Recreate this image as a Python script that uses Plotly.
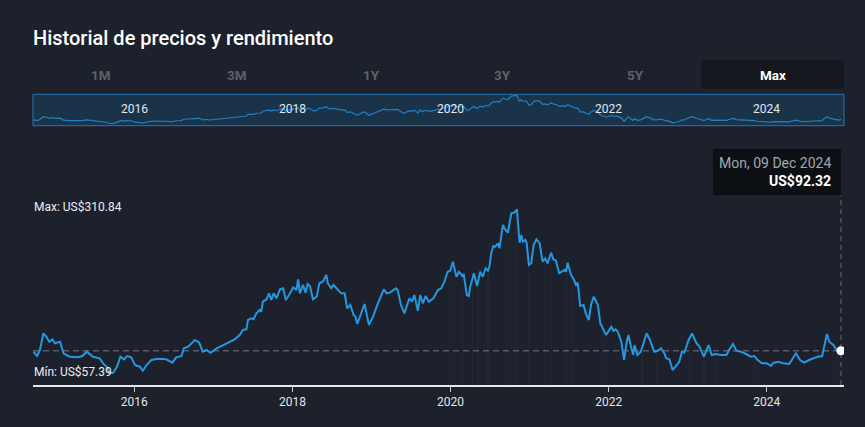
import pandas as pd
import plotly.graph_objects as go

# Serie de precios (fecha, precio en US$)
fechas = [
    "2014-09-22", "2014-10-09", "2014-10-22", "2014-11-07", "2014-11-22", "2014-12-04", "2014-12-19", "2014-12-31",
    "2015-01-23", "2015-02-08", "2015-03-08", "2015-04-16", "2015-05-06", "2015-05-27", "2015-06-24", "2015-07-25",
    "2015-08-10", "2015-08-28", "2015-09-07", "2015-09-25", "2015-10-13", "2015-10-29", "2015-11-14", "2015-11-29",
    "2015-12-18", "2016-01-04", "2016-01-27", "2016-02-09", "2016-02-27", "2016-03-20", "2016-04-20", "2016-05-28",
    "2016-06-25", "2016-07-13", "2016-08-06", "2016-08-17", "2016-09-06", "2016-10-07", "2016-10-27", "2016-11-12",
    "2016-11-30", "2016-12-18", "2017-01-16", "2017-02-15", "2017-03-16", "2017-04-09", "2017-05-02", "2017-05-17",
    "2017-06-02", "2017-06-09", "2017-06-25", "2017-07-05", "2017-07-18", "2017-08-02", "2017-08-10", "2017-08-17",
    "2017-09-03", "2017-09-14", "2017-09-25", "2017-10-06", "2017-10-19", "2017-11-04", "2017-11-19", "2017-12-01",
    "2017-12-16", "2018-01-04", "2018-01-19", "2018-01-27", "2018-02-04", "2018-02-19", "2018-03-02", "2018-03-12",
    "2018-03-23", "2018-04-05", "2018-04-23", "2018-05-05", "2018-05-21", "2018-06-06", "2018-06-13", "2018-06-29",
    "2018-07-09", "2018-07-29", "2018-08-14", "2018-08-30", "2018-09-10", "2018-09-25", "2018-10-10", "2018-10-19",
    "2018-10-27", "2018-11-07", "2018-11-30", "2018-12-20", "2019-01-08", "2019-02-01", "2019-02-27", "2019-03-12",
    "2019-03-27", "2019-04-09", "2019-04-24", "2019-05-02", "2019-05-17", "2019-06-02", "2019-06-10", "2019-06-25",
    "2019-07-07", "2019-07-18", "2019-08-03", "2019-08-14", "2019-08-26", "2019-09-08", "2019-09-23", "2019-10-14",
    "2019-11-04", "2019-11-19", "2019-12-04", "2019-12-19", "2019-12-31", "2020-01-12", "2020-01-28", "2020-02-09",
    "2020-02-25", "2020-03-02", "2020-03-16", "2020-03-25", "2020-04-01", "2020-04-18", "2020-05-03", "2020-05-17",
    "2020-05-29", "2020-06-11", "2020-06-22", "2020-06-29", "2020-07-07", "2020-07-17", "2020-07-26", "2020-08-07",
    "2020-08-14", "2020-08-30", "2020-09-11", "2020-09-22", "2020-10-08", "2020-10-23", "2020-11-03", "2020-11-15",
    "2020-11-23", "2020-11-30", "2020-12-12", "2020-12-18", "2020-12-28", "2021-01-08", "2021-01-19", "2021-02-01",
    "2021-02-16", "2021-03-01", "2021-03-14", "2021-03-24", "2021-04-10", "2021-04-20", "2021-05-02", "2021-05-17",
    "2021-06-10", "2021-06-18", "2021-06-25", "2021-07-11", "2021-07-23", "2021-08-03", "2021-08-11", "2021-08-22",
    "2021-09-07", "2021-09-17", "2021-10-01", "2021-10-12", "2021-10-24", "2021-11-04", "2021-11-12", "2021-11-23",
    "2021-12-20", "2022-01-13", "2022-01-23", "2022-02-02", "2022-02-12", "2022-02-28", "2022-03-13", "2022-03-24",
    "2022-04-02", "2022-04-14", "2022-04-24", "2022-04-30", "2022-05-14", "2022-05-29", "2022-06-25", "2022-07-10",
    "2022-07-30", "2022-08-15", "2022-08-31", "2022-09-15", "2022-09-23", "2022-10-08", "2022-10-23", "2022-11-08",
    "2022-11-23", "2022-12-05", "2022-12-16", "2023-01-05", "2023-01-21", "2023-02-09", "2023-02-24", "2023-03-17",
    "2023-04-07", "2023-04-22", "2023-05-10", "2023-06-03", "2023-06-29", "2023-07-11", "2023-07-29", "2023-08-14",
    "2023-09-04", "2023-09-27", "2023-10-20", "2023-11-05", "2023-11-20", "2023-12-10", "2024-01-01", "2024-01-21",
    "2024-02-01", "2024-02-25", "2024-03-17", "2024-04-14", "2024-04-29", "2024-05-15", "2024-06-03", "2024-06-22",
    "2024-07-15", "2024-08-08", "2024-08-23", "2024-09-13", "2024-09-23", "2024-10-05", "2024-10-16", "2024-11-04",
    "2024-11-19", "2024-11-29", "2024-12-09",
]
precios = [
    90.8, 84.1, 93.4, 119.2, 113.5, 106.2, 109.9, 103.8,
    106.2, 88.3, 83.0, 82.1, 84.1, 90.8, 83.0, 80.6,
    72.8, 66.7, 57.39, 58.3, 67.6, 83.0, 79.0, 84.1,
    82.1, 70.2, 67.6, 61.4, 70.2, 78.0, 80.0, 79.0,
    73.8, 82.1, 84.1, 96.0, 98.5, 108.9, 104.7, 90.8,
    93.4, 89.2, 96.0, 101.1, 106.2, 109.9, 116.6, 124.3,
    125.4, 139.8, 142.4, 140.9, 150.1, 155.2, 152.6, 168.1,
    171.8, 181.0, 170.7, 181.0, 173.3, 187.2, 188.8, 170.7,
    178.4, 190.3, 186.1, 202.7, 181.0, 193.9, 182.0, 195.4,
    192.3, 171.8, 175.8, 196.5, 199.0, 209.3, 196.5, 188.8,
    193.9, 186.1, 181.0, 181.0, 157.9, 163.0, 147.5, 144.9,
    133.6, 143.3, 164.5, 132.0, 144.9, 166.5, 187.2, 181.0,
    182.0, 185.1, 188.8, 186.1, 163.0, 150.1, 159.4, 173.3,
    168.1, 178.4, 154.1, 178.4, 165.6, 176.9, 168.1, 173.3,
    186.1, 188.8, 199.0, 214.4, 216.0, 229.9, 206.7, 214.4,
    207.8, 210.9, 178.4, 176.9, 191.2, 212.0, 192.3, 214.4,
    206.7, 219.7, 216.0, 222.2, 242.9, 254.1, 253.1, 258.3,
    250.6, 286.6, 278.9, 274.7, 304.7, 306.2, 310.84, 259.2,
    271.2, 260.8, 263.4, 258.3, 224.8, 227.4, 255.7, 264.5,
    258.3, 229.9, 235.1, 227.4, 243.8, 233.6, 231.4, 212.0,
    217.0, 214.4, 228.3, 209.3, 202.7, 193.9, 197.4, 161.4,
    163.0, 150.1, 139.8, 164.5, 175.8, 168.1, 163.0, 134.7,
    116.6, 129.4, 123.2, 125.4, 121.7, 106.2, 77.9, 103.8,
    116.6, 98.5, 85.7, 101.1, 85.7, 90.8, 119.2, 108.9,
    90.8, 92.3, 96.0, 88.3, 80.6, 79.0, 62.5, 68.7,
    75.3, 90.8, 89.2, 108.9, 119.2, 104.7, 98.5, 83.0,
    101.1, 85.7, 87.2, 85.7, 85.7, 93.4, 102.7, 92.3,
    90.8, 87.2, 83.0, 84.1, 77.9, 72.8, 72.8, 68.7,
    73.8, 75.3, 72.8, 71.8, 80.6, 88.3, 77.9, 73.8,
    77.9, 80.6, 83.0, 84.1, 101.1, 118.1, 106.2, 101.1,
    93.4, 88.0, 92.32,
]

# Fechas de las líneas verticales tenues del fondo
fechas_eventos = [
    "2019-12-31", "2020-02-27", "2020-04-10", "2020-05-10", "2020-06-22", "2020-09-15", "2020-10-04",
    "2020-10-28", "2020-12-28", "2021-03-10", "2021-04-10", "2021-06-18", "2021-07-19", "2021-12-05",
    "2022-06-04", "2022-08-08", "2023-01-09", "2023-03-17", "2023-05-14", "2023-11-05", "2024-11-24",
]

anios_ticks = ["2016", "2018", "2020", "2022", "2024"]
botones = ["1M", "3M", "1Y", "3Y", "5Y", "Max"]

# ------------------------------------------
BG = "#1c212c"
AZUL = "#2596e0"
FUENTE = "Roboto, sans-serif"
H = 427
W = 865
ML, MR = 33, 21


def py(px):
    # posición vertical en píxeles -> fracción de papel
    return (H - px) / H


serie = pd.Series(precios, index=pd.to_datetime(fechas))
ultima_fecha = serie.index[-1]
ultimo_precio = serie.iloc[-1]

# alturas de las líneas tenues: precio del punto más cercano
idx_cercanos = serie.index.get_indexer(pd.to_datetime(fechas_eventos), method="nearest")
alturas_eventos = [serie.iloc[i] for i in idx_cercanos]

rango_x = ["2014-09-20", "2024-12-23"]
ticks_x = [f"{a}-01-01" for a in anios_ticks]

fig = go.Figure()

fig.add_trace(go.Bar(
    x=fechas_eventos, y=alturas_eventos, base=0, width=4.6e8,
    marker=dict(color="rgba(255,255,255,0.03)", line=dict(width=0)),
    hoverinfo="skip", xaxis="x", yaxis="y",
))

fig.add_trace(go.Scatter(
    x=fechas, y=precios, mode="lines",
    line=dict(color=AZUL, width=2),
    hoverinfo="skip", xaxis="x", yaxis="y",
))

fig.add_trace(go.Scatter(
    x=[ultima_fecha], y=[ultimo_precio], mode="markers",
    marker=dict(color="white", size=9, line=dict(width=0)),
    hoverinfo="skip", xaxis="x", yaxis="y",
))

# mini gráfico del navegador
fig.add_trace(go.Scatter(
    x=fechas, y=precios, mode="lines",
    line=dict(color="#1f80c8", width=1.2),
    hoverinfo="skip", xaxis="x2", yaxis="y2",
))

shapes = [
    # caja del navegador
    dict(type="rect", xref="x2 domain", yref="y2 domain", x0=0, x1=1, y0=0, y1=1,
         fillcolor="#1a3349", line=dict(color="#2576b8", width=1), layer="below"),
    # línea horizontal del último precio
    dict(type="line", xref="x domain", yref="y", x0=0, x1=1, y0=ultimo_precio, y1=ultimo_precio,
         line=dict(color="#575c66", width=1.5, dash="6px,4px"), layer="below"),
    # línea vertical del cursor
    dict(type="line", xref="x", yref="paper", x0=ultima_fecha, x1=ultima_fecha,
         y0=py(385), y1=py(195), line=dict(color="#575c66", width=1.2, dash="5px,4px"), layer="below"),
    # caja del tooltip
    dict(type="rect", xref="x", xsizemode="pixel", xanchor=ultima_fecha, x0=-128, x1=0,
         yref="paper", y0=py(195), y1=py(149), fillcolor="#0c0f14", line=dict(width=0)),
]

# botón "Max" resaltado, con esquinas redondeadas
x0, x1 = (701 - ML) / (W - ML - MR), 1.0
y0, y1 = py(89), py(60)
rx, ry = 5 / (W - ML - MR), 5 / H
shapes.append(dict(
    type="path", xref="paper", yref="paper", fillcolor="#14171e", line=dict(width=0),
    path=(f"M {x0+rx},{y0} L {x1-rx},{y0} Q {x1},{y0} {x1},{y0+ry} L {x1},{y1-ry} "
          f"Q {x1},{y1} {x1-rx},{y1} L {x0+rx},{y1} Q {x0},{y1} {x0},{y1-ry} "
          f"L {x0},{y0+ry} Q {x0},{y0} {x0+rx},{y0} Z"),
))

annotations = [
    dict(text="Historial de precios y rendimiento", xref="paper", yref="paper", x=0, y=py(38),
         xanchor="left", yanchor="middle", xshift=-2, showarrow=False,
         font=dict(size=20, color="#ffffff", family=FUENTE, weight=500)),
    dict(text=f"Max: US${max(precios):.2f}", xref="paper", yref="y", x=0, y=max(precios),
         xanchor="left", yanchor="middle", xshift=-1, yshift=2, showarrow=False,
         font=dict(size=12, color="#eceef1", family=FUENTE)),
    dict(text=f"Mín: US${min(precios):.2f}", xref="paper", yref="y", x=0, y=min(precios),
         xanchor="left", yanchor="middle", xshift=-1, yshift=1, showarrow=False,
         font=dict(size=12, color="#eceef1", family=FUENTE)),
    dict(text=ultima_fecha.strftime("%a, %d %b %Y"), xref="x", yref="paper", x=ultima_fecha, y=py(163),
         xanchor="right", yanchor="middle", xshift=-8, showarrow=False,
         font=dict(size=14, color="#a3a7ae", family=FUENTE)),
    dict(text=f"<b>US${ultimo_precio:.2f}</b>", xref="x", yref="paper", x=ultima_fecha, y=py(181),
         xanchor="right", yanchor="middle", xshift=-8, showarrow=False,
         font=dict(size=14, color="#ffffff", family=FUENTE)),
]

# etiquetas de años dentro del navegador
for a, t in zip(anios_ticks, ticks_x):
    annotations.append(dict(text=a, xref="x2", yref="paper", x=t, y=py(109.5),
                            xanchor="center", yanchor="middle", showarrow=False,
                            font=dict(size=12, color="#e2e8ee", family=FUENTE)))

# botones de rango
centros_px = [100.7, 236.7, 371, 502.7, 635.3, 772.7]
for b, c in zip(botones, centros_px):
    annotations.append(dict(text=f"<b>{b}</b>", xref="paper", yref="paper",
                            x=(c - ML) / (W - ML - MR), y=py(75.5),
                            xanchor="center", yanchor="middle", showarrow=False,
                            font=dict(size=13.5, family=FUENTE,
                                      color="#ffffff" if b == "Max" else "#5d6169")))

fig.update_layout(
    width=W, height=H, autosize=False,
    margin=dict(l=ML, r=MR, t=0, b=0, pad=0),
    paper_bgcolor=BG, plot_bgcolor=BG,
    showlegend=False, hovermode=False, bargap=0,
    font=dict(family=FUENTE, color="#e6e6e6"),
    xaxis=dict(
        domain=[0, 1], anchor="y", range=rango_x, type="date",
        showgrid=False, zeroline=False,
        showline=True, linecolor="#e8e8e8", linewidth=1.5,
        tickmode="array", tickvals=ticks_x, ticktext=anios_ticks,
        ticks="outside", ticklen=5, tickwidth=1.5, tickcolor="#c9ccd1",
        tickfont=dict(size=12, color="#e6e6e6", family=FUENTE),
    ),
    yaxis=dict(
        domain=[py(385), py(145)], anchor="x", range=[39.31, 410.25],
        visible=False, showgrid=False, zeroline=False,
    ),
    xaxis2=dict(
        domain=[0, 1], anchor="y2", range=rango_x, type="date", visible=False,
    ),
    yaxis2=dict(
        domain=[py(125.7), py(94.3)], anchor="x2", range=[37.5, 321.7], visible=False,
    ),
    shapes=shapes,
    annotations=annotations,
)

fig.write_html(
    "out.html",
    config={"displayModeBar": False, "staticPlot": True},
    post_script="document.body.style.margin='0';document.body.style.overflow='hidden';",
)
